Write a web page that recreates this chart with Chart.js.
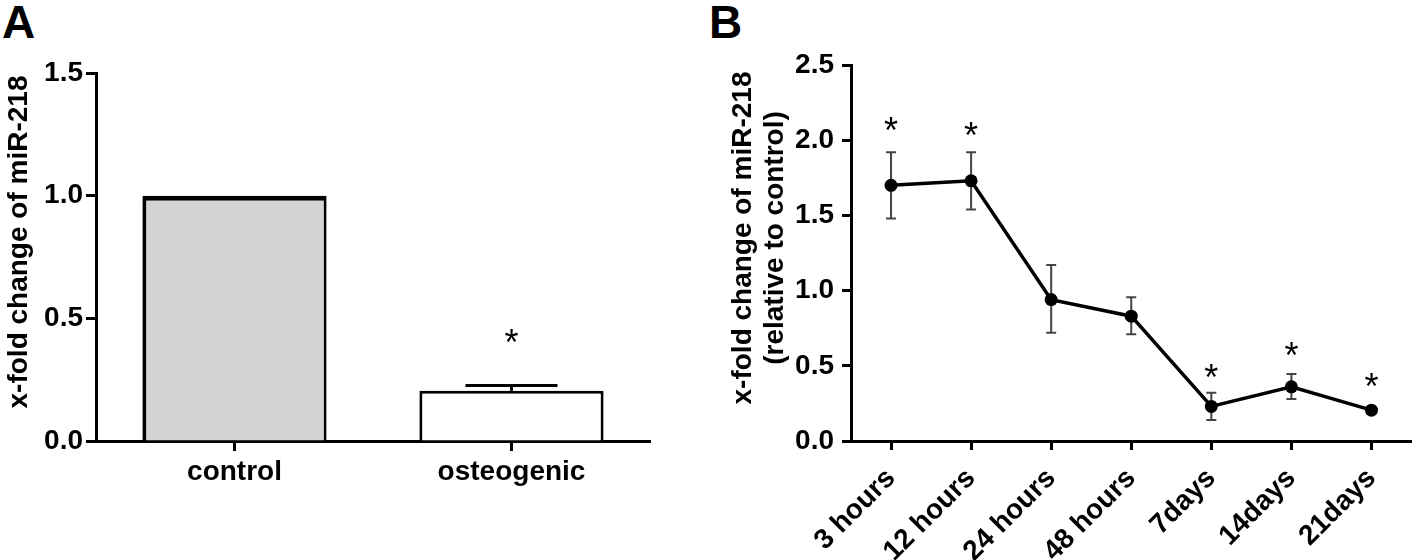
<!DOCTYPE html>
<html lang="en">
<head>
    <meta charset="UTF-8">
    <title>miR-218 x-fold change</title>
    <script src="https://cdn.jsdelivr.net/npm/chart.js"></script>
    <style>
        body { margin: 0; background: #fff; width: 1418px; height: 560px; position: relative; overflow: hidden; }
        canvas { position: absolute; top: 0; }
        #chartA { left: 0; }
        #chartB { left: 700px; }
        .panel-letter {
            position: absolute; top: -1px;
            font: bold 46px "Liberation Sans", Arial, sans-serif;
            line-height: 1;
        }
    </style>
</head>
<body>
    <div class="panel-letter" style="left: 2px;">A</div>
    <div class="panel-letter" style="left: 709px;">B</div>
    <canvas id="chartA" width="700" height="560"></canvas>
    <canvas id="chartB" width="718" height="560"></canvas>

    <script>
        // panel A: bars
        const groupsA = ["control", "osteogenic"];
        const meanA = [1.0, 0.205];
        const upperA = [null, 0.226];
        const starsA = [null, 0.435];
        const yTicksA = [0, 0.5, 1.0, 1.5];

        // panel B: time course
        const timesB = ["3 hours", "12 hours", "24 hours", "48 hours", "7days", "14days", "21days"];
        const meanB = [1.70, 1.73, 0.94, 0.83, 0.23, 0.36, 0.205];
        const lowB = [1.48, 1.54, 0.72, 0.71, 0.14, 0.28, 0.185];
        const highB = [1.92, 1.92, 1.17, 0.955, 0.32, 0.445, 0.225];
        const starsB = [2.12, 2.085, null, null, 0.475, 0.625, 0.42];
        const yTicksB = [0, 0.5, 1.0, 1.5, 2.0, 2.5];

        const yTitle = "x-fold change of miR-218";
        const yTitleB2 = "(relative to control)";

        const FONT = "'Liberation Sans', Arial, sans-serif";
        Chart.defaults.font.family = FONT;
        Chart.defaults.color = "#000";

        // error bars, asterisks and the y title
        const extras = {
            id: "extras",
            beforeDatasetsDraw(chart, args, opts) {
                if (!opts.low) return;
                const ctx = chart.ctx, xs = chart.scales.x, ys = chart.scales.y;
                ctx.save();
                ctx.strokeStyle = opts.errColor;
                ctx.lineWidth = opts.errWidth;
                opts.low.forEach((lo, i) => {
                    const hi = opts.high[i];
                    if (lo == null || hi == null) return;
                    const px = xs.getPixelForValue(i);
                    const y1 = ys.getPixelForValue(lo);
                    const y2 = ys.getPixelForValue(hi);
                    ctx.beginPath();
                    ctx.moveTo(px, y1);
                    ctx.lineTo(px, y2);
                    ctx.moveTo(px - opts.cap, y2);
                    ctx.lineTo(px + opts.cap, y2);
                    if (opts.lowCap) {
                        ctx.moveTo(px - opts.cap, y1);
                        ctx.lineTo(px + opts.cap, y1);
                    }
                    ctx.stroke();
                });
                ctx.restore();
            },
            afterDraw(chart, args, opts) {
                const ctx = chart.ctx, xs = chart.scales.x, ys = chart.scales.y;
                const area = chart.chartArea;
                ctx.save();
                ctx.fillStyle = "#000";
                ctx.textAlign = "center";
                ctx.textBaseline = "alphabetic";
                ctx.font = "36px " + FONT;
                (opts.stars || []).forEach((v, i) => {
                    if (v == null) return;
                    ctx.fillText("*", xs.getPixelForValue(i), ys.getPixelForValue(v) + 36 * 0.575);
                });
                // rotated y title
                ctx.font = "bold 28px " + FONT;
                ctx.textBaseline = "middle";
                const cy = (area.top + area.bottom) / 2 + opts.titleShift;
                opts.title.forEach((line, k) => {
                    ctx.save();
                    ctx.translate(opts.titleX + k * opts.titleGap, cy);
                    ctx.rotate(-Math.PI / 2);
                    ctx.fillText(line, 0, 0);
                    ctx.restore();
                });
                ctx.restore();
            }
        };

        const fmt = v => Number(v).toFixed(1);

        new Chart(document.getElementById("chartA"), {
            type: "bar",
            data: {
                labels: groupsA,
                datasets: [{
                    data: meanA,
                    backgroundColor: ["#d3d3d3", "#ffffff"],
                    borderColor: "#000",
                    borderWidth: [{ top: 5, left: 4, right: 3, bottom: 0 }, { top: 3, left: 3, right: 3, bottom: 0 }],
                    borderSkipped: "start",
                    barPercentage: 0.665,
                    categoryPercentage: 1.0
                }]
            },
            options: {
                responsive: false,
                animation: false,
                layout: { padding: { top: 73, right: 50, bottom: 0, left: 0 } },
                plugins: {
                    legend: { display: false },
                    tooltip: { enabled: false },
                    extras: {
                        low: meanA, high: upperA, cap: 46, errWidth: 3, errColor: "#000", lowCap: false,
                        stars: starsA, title: [yTitle], titleX: 19, titleGap: 0, titleShift: -15
                    }
                },
                scales: {
                    x: {
                        afterFit: s => { s.height = 119; },
                        grid: { offset: false, drawOnChartArea: false, tickLength: 10, tickWidth: 3, color: "#000" },
                        border: { width: 3, color: "#000" },
                        ticks: { font: { size: 28, weight: "bold" }, padding: 4, maxRotation: 0 }
                    },
                    y: {
                        min: 0, max: 1.5,
                        afterFit: s => { s.width = 96; },
                        afterBuildTicks: s => { s.ticks = yTicksA.map(v => ({ value: v })); },
                        grid: { drawOnChartArea: false, tickLength: 10, tickWidth: 3, color: "#000" },
                        border: { width: 3, color: "#000" },
                        ticks: { font: { size: 28, weight: "bold" }, padding: 3, callback: fmt }
                    }
                }
            },
            plugins: [extras]
        });

        new Chart(document.getElementById("chartB"), {
            type: "line",
            data: {
                labels: timesB,
                datasets: [{
                    data: meanB,
                    borderColor: "#000",
                    borderWidth: 3.5,
                    tension: 0,
                    pointRadius: 6.5,
                    pointBackgroundColor: "#000",
                    pointBorderColor: "#000",
                    pointBorderWidth: 0
                }]
            },
            options: {
                responsive: false,
                animation: false,
                layout: { padding: { top: 65, right: 5, bottom: 0, left: 0 } },
                plugins: {
                    legend: { display: false },
                    tooltip: { enabled: false },
                    extras: {
                        low: lowB, high: highB, cap: 5, errWidth: 2, errColor: "#444", lowCap: true,
                        stars: starsB, title: [yTitle, yTitleB2], titleX: 43, titleGap: 32, titleShift: -15
                    }
                },
                scales: {
                    x: {
                        offset: true,
                        afterFit: s => { s.height = 119; },
                        grid: { offset: false, drawOnChartArea: false, tickLength: 9, tickWidth: 3, color: "#000" },
                        border: { width: 3, color: "#000" },
                        ticks: { font: { size: 28, weight: "bold" }, padding: 12, minRotation: 45, maxRotation: 45, autoSkip: false }
                    },
                    y: {
                        min: 0, max: 2.5,
                        afterFit: s => { s.width = 151; },
                        afterBuildTicks: s => { s.ticks = yTicksB.map(v => ({ value: v })); },
                        grid: { drawOnChartArea: false, tickLength: 9, tickWidth: 3, color: "#000" },
                        border: { width: 3, color: "#000" },
                        ticks: { font: { size: 28, weight: "bold" }, padding: 8, callback: fmt }
                    }
                }
            },
            plugins: [extras]
        });
    </script>
</body>
</html>
